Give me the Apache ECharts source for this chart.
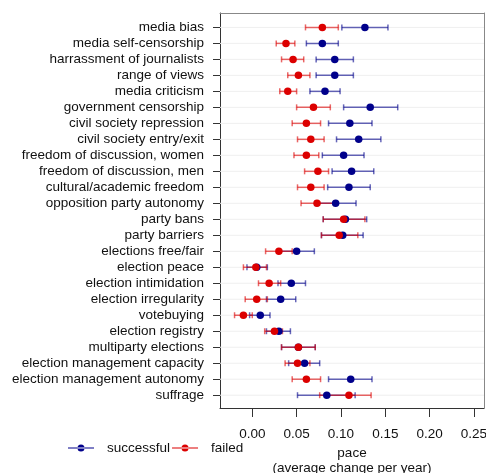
<!DOCTYPE html>
<html>
<head>
<meta charset="utf-8">
<script src="https://cdn.jsdelivr.net/npm/echarts@6/dist/echarts.min.js"></script>
<style>
  html, body { margin: 0; padding: 0; background: #fff; }
  #chart { width: 486px; height: 473px; }
</style>
</head>
<body>
<div id="chart"></div>
<script>
// Indicators, top to bottom
const categories = [
  'media bias', 'media self-censorship', 'harrassment of journalists', 'range of views',
  'media criticism', 'government censorship', 'civil society repression', 'civil society entry/exit',
  'freedom of discussion, women', 'freedom of discussion, men', 'cultural/academic freedom',
  'opposition party autonomy', 'party bans', 'party barriers', 'elections free/fair',
  'election peace', 'election intimidation', 'election irregularity', 'votebuying',
  'election registry', 'multiparty elections', 'election management capacity',
  'election management autonomy', 'suffrage'
];

// Successful episodes: estimate and interval
const successPace = [0.127, 0.079, 0.093, 0.093, 0.082, 0.133, 0.110, 0.120, 0.103, 0.112, 0.109, 0.094,
                     0.105, 0.102, 0.050, 0.005, 0.044, 0.032, 0.009, 0.030, 0.052, 0.059, 0.111, 0.084];
const successLow  = [0.101, 0.061, 0.072, 0.072, 0.065, 0.103, 0.086, 0.095, 0.079, 0.090, 0.085, 0.071,
                     0.080, 0.078, 0.030, -0.006, 0.029, 0.016, -0.003, 0.016, 0.033, 0.041, 0.086, 0.051];
const successHigh = [0.153, 0.097, 0.114, 0.114, 0.099, 0.164, 0.135, 0.145, 0.126, 0.137, 0.133, 0.117,
                     0.129, 0.125, 0.070, 0.017, 0.060, 0.049, 0.020, 0.043, 0.071, 0.076, 0.135, 0.116];

// Failed episodes: estimate and interval
const failedPace = [0.079, 0.038, 0.046, 0.052, 0.040, 0.069, 0.061, 0.066, 0.061, 0.074, 0.066, 0.073,
                    0.103, 0.098, 0.030, 0.004, 0.019, 0.005, -0.010, 0.025, 0.052, 0.051, 0.061, 0.109];
const failedLow  = [0.060, 0.027, 0.033, 0.040, 0.031, 0.050, 0.045, 0.051, 0.047, 0.059, 0.051, 0.055,
                    0.080, 0.078, 0.015, -0.010, 0.007, -0.008, -0.020, 0.014, 0.033, 0.037, 0.045, 0.076];
const failedHigh = [0.097, 0.048, 0.058, 0.065, 0.050, 0.088, 0.077, 0.081, 0.075, 0.086, 0.081, 0.092,
                    0.127, 0.119, 0.045, 0.016, 0.032, 0.017, 0.000, 0.034, 0.071, 0.065, 0.077, 0.134];

const xTicks = [0, 0.05, 0.10, 0.15, 0.20, 0.25];

const X_MIN = -0.0364, X_MAX = 0.2613;
const Y_MIN = -0.9, Y_MAX = 23.8;
const NAVY = '#00008b', RED = '#dc0000';
const FONT = '"Liberation Sans", Arial, sans-serif';
const rowIndex = categories.map((_, i) => i);

function barData(low, high) {
  return categories.map((_, i) => [low[i], high[i], i]);
}
function pointData(pace) {
  return categories.map((_, i) => [pace[i], i]);
}

function errorBarRenderer(color) {
  return function (params, api) {
    const y = api.value(2);
    const a = api.coord([api.value(0), y]);
    const b = api.coord([api.value(1), y]);
    const cap = 3;
    const style = { stroke: color, lineWidth: 1.5, opacity: 0.6 };
    return {
      type: 'group',
      children: [
        { type: 'line', shape: { x1: a[0], y1: a[1], x2: b[0], y2: b[1] }, style },
        { type: 'line', shape: { x1: a[0], y1: a[1] - cap, x2: a[0], y2: a[1] + cap }, style },
        { type: 'line', shape: { x1: b[0], y1: b[1] - cap, x2: b[0], y2: b[1] + cap }, style }
      ]
    };
  };
}

const legendIcon = 'path://M0 2.9H26V4.1H0Z M9.5 3.5A3.5 3.5 0 1 0 16.5 3.5A3.5 3.5 0 1 0 9.5 3.5Z';

const chart = echarts.init(document.getElementById('chart'), null, { renderer: 'canvas' });
chart.setOption({
  animation: false,
  backgroundColor: '#ffffff',
  textStyle: { fontFamily: FONT },
  grid: { left: 220, right: 2, top: 13, bottom: 65, containLabel: false, outerBoundsMode: 'none' },
  legend: {
    left: 68, top: 441, padding: 0,
    itemWidth: 26, itemHeight: 7, itemGap: 2,
    selectedMode: false,
    textStyle: { fontSize: 13.5, color: '#111', fontFamily: FONT, padding: [0, 0, 0, 8] },
    data: [
      { name: 'successful', icon: legendIcon, itemStyle: { color: NAVY } },
      { name: 'failed', icon: legendIcon, itemStyle: { color: RED } }
    ]
  },
  xAxis: [
    {
      type: 'value', min: X_MIN, max: X_MAX, position: 'bottom',
      axisLine: { show: true, onZero: false, lineStyle: { color: '#333', width: 1 } },
      axisTick: { show: true, customValues: xTicks, length: 9, lineStyle: { color: '#333' } },
      axisLabel: {
        customValues: xTicks, margin: 19, fontSize: 13.5, color: '#111', fontFamily: FONT,
        formatter: v => v.toFixed(2)
      },
      splitLine: { show: false },
      name: 'pace\n(average change per year)',
      nameLocation: 'middle', nameGap: 37,
      nameTextStyle: { fontSize: 13.5, color: '#111', lineHeight: 15, fontFamily: FONT }
    },
    {
      type: 'value', min: X_MIN, max: X_MAX, position: 'top',
      axisLine: { show: true, onZero: false, lineStyle: { color: '#888', width: 1 } },
      axisTick: { show: false }, axisLabel: { show: false }, splitLine: { show: false }
    }
  ],
  yAxis: [
    {
      type: 'value', inverse: true, min: Y_MIN, max: Y_MAX, position: 'left',
      axisLine: { show: true, onZero: false, lineStyle: { color: '#333', width: 1 } },
      axisTick: { show: true, customValues: rowIndex, length: 7, lineStyle: { color: '#333' } },
      axisLabel: {
        customValues: rowIndex, margin: 16, fontSize: 13.5, color: '#111', fontFamily: FONT,
        formatter: v => categories[Math.round(v)]
      },
      splitLine: { show: false }
    },
    {
      type: 'value', inverse: true, min: Y_MIN, max: Y_MAX, position: 'right',
      axisLine: { show: true, onZero: false, lineStyle: { color: '#888', width: 1 } },
      axisTick: { show: false }, axisLabel: { show: false }, splitLine: { show: false }
    }
  ],
  series: [
    {
      // faint row guides
      name: 'rows', type: 'custom', silent: true, z: 1,
      data: rowIndex.map(i => [X_MIN, X_MAX, i]),
      encode: { x: [0, 1], y: 2 },
      renderItem: (params, api) => {
        const a = api.coord([api.value(0), api.value(2)]);
        const b = api.coord([api.value(1), api.value(2)]);
        return { type: 'line', shape: { x1: a[0], y1: a[1], x2: b[0], y2: b[1] },
                 style: { stroke: '#efefef', lineWidth: 1 } };
      }
    },
    {
      name: 'successful interval', type: 'custom', z: 2, silent: true,
      data: barData(successLow, successHigh), encode: { x: [0, 1], y: 2 },
      renderItem: errorBarRenderer(NAVY)
    },
    {
      name: 'failed interval', type: 'custom', z: 3, silent: true,
      data: barData(failedLow, failedHigh), encode: { x: [0, 1], y: 2 },
      renderItem: errorBarRenderer(RED)
    },
    {
      name: 'successful', type: 'scatter', z: 4, symbol: 'circle', symbolSize: 7.5,
      itemStyle: { color: NAVY, opacity: 1 }, data: pointData(successPace)
    },
    {
      name: 'failed', type: 'scatter', z: 5, symbol: 'circle', symbolSize: 7.5,
      itemStyle: { color: RED, opacity: 1 }, data: pointData(failedPace)
    }
  ]
});
</script>
</body>
</html>
